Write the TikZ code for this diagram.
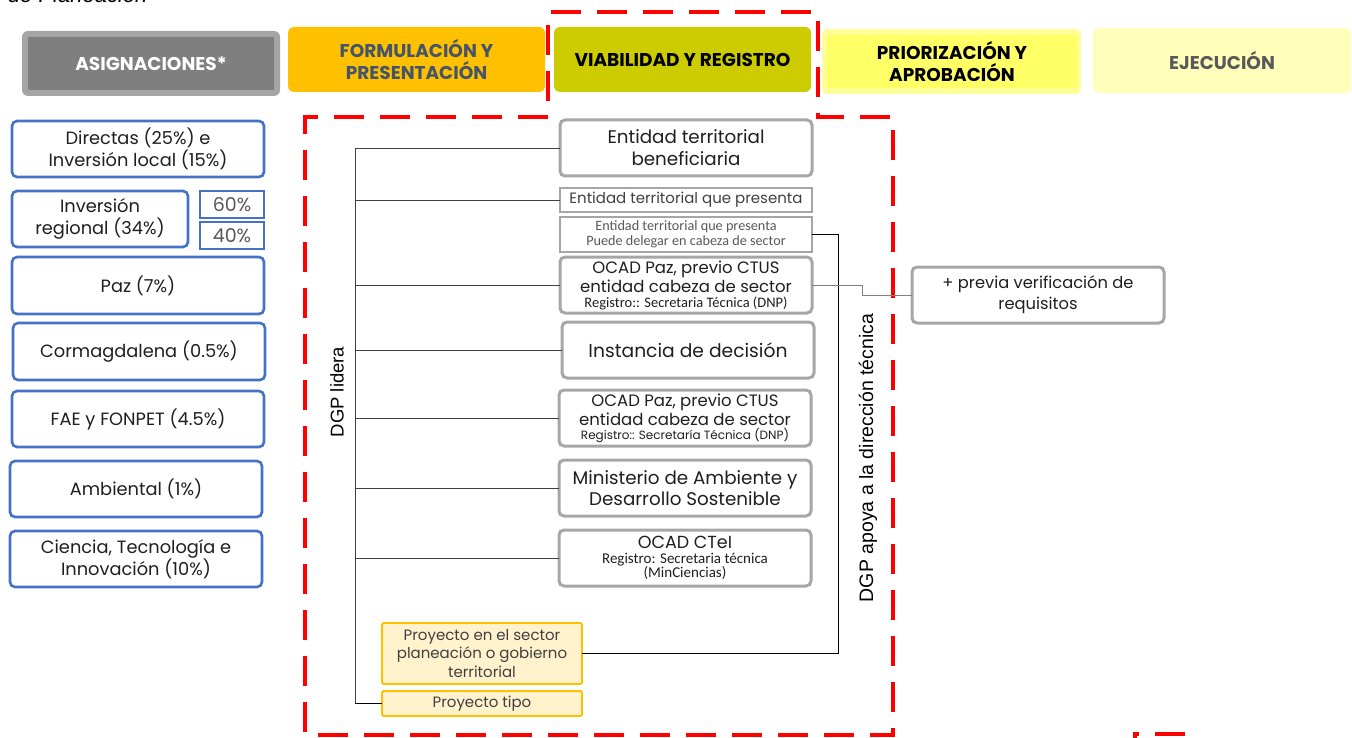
\documentclass[tikz,border=0pt]{standalone}
\usepackage{fontspec}
\setmainfont{Poppins}
\newfontfamily\calfont{Carlito}
\newfontfamily\arifont{Liberation Sans}
\definecolor{blueB}{HTML}{4472C4}
\definecolor{grayB}{HTML}{A6A6A6}
\definecolor{hgrayo}{HTML}{A5A5A5}
\definecolor{hgrayi}{HTML}{7F7F7F}
\definecolor{orangeF}{HTML}{FFC000}
\definecolor{oliveF}{HTML}{CCCC00}
\definecolor{prioO}{HTML}{FFFF99}
\definecolor{prioI}{HTML}{FFFF66}
\definecolor{ejecF}{HTML}{FFFFBB}
\definecolor{navyT}{HTML}{44546A}
\definecolor{dgrayT}{HTML}{595959}
\definecolor{lineC}{HTML}{404040}
\definecolor{projF}{HTML}{FFF2CC}
\definecolor{redD}{HTML}{FF0000}
\newcommand{\fsz}[2]{\fontsize{#1}{#2}\selectfont}
\newcommand{\boxat}[7]{\node[#2, minimum width={(#5-#3)*1pt}, minimum height={(#6-#4)*1pt}] (#1) at ({(#3+#5)/2},{(#4+#6)/2}) {#7};}
\begin{document}
\begin{tikzpicture}[x=1pt,y=-1pt,
  every node/.style={inner sep=0pt, outer sep=0pt, align=center},
  hdr/.style={rounded corners=6pt, font=\bfseries\fsz{18.5}{22}},
  lb/.style={draw=blueB, line width=2.6pt, rounded corners=5pt, fill=white, font=\fsz{17.8}{22}, text=black!88},
  pb/.style={draw=blueB, line width=1.3pt, fill=white, font=\fsz{19}{20}, text=dgrayT},
  mb/.style={draw=grayB, line width=3pt, rounded corners=5pt, fill=white, text=black!88},
  tb/.style={draw=grayB, line width=1.5pt, fill=white},
  yb/.style={draw=orangeF, fill=projF, line width=1.8pt, rounded corners=1.5pt, font=\fsz{15}{18.5}, text=lineC},
  conn/.style={draw=lineC, line width=0.9pt},
  reddash/.style={draw=redD, line width=4pt, dash pattern=on 30pt off 16pt}
]
\useasboundingbox (0,0) rectangle (1352,738);

% caption remnant (cut off at the top edge, as in the reference)
\node[anchor=base west, font=\arifont\itshape\fsz{22}{24}] (cap) at (8,3) {de Planeación};

% headers
\boxat{h1o}{fill=hgrayo, rounded corners=6pt}{22}{31}{280}{96}{}
\boxat{h1}{hdr, fill=hgrayi, rounded corners=1pt, text=white}{28}{37}{274}{90}{ASIGNACIONES*}
\boxat{h2}{hdr, fill=orangeF, text=navyT}{288}{27}{545}{92}{FORMULACIÓN Y\\PRESENTACIÓN}
\boxat{h3}{hdr, fill=oliveF, text=black}{554}{27}{811}{92}{VIABILIDAD Y REGISTRO}
\boxat{h4o}{fill=prioO, rounded corners=6pt}{822}{29}{1081}{94}{}
\boxat{h4}{hdr, fill=prioI, rounded corners=1pt, text=black}{827}{35}{1077}{88}{PRIORIZACIÓN Y\\APROBACIÓN}
\boxat{h5}{hdr, fill=ejecF, text=dgrayT}{1093}{28}{1351}{93}{EJECUCIÓN}

% left column
\boxat{a1}{lb}{12}{121}{264}{177}{Directas (25\%) e\\Inversión local (15\%)}
\boxat{a2}{lb}{12}{191}{188}{247}{Inversión\\regional (34\%)}
\boxat{a60}{pb}{200}{191}{264}{218}{60\%}
\boxat{a40}{pb}{200}{222}{264}{249}{40\%}
\boxat{a3}{lb}{12}{257}{264}{314}{Paz (7\%)}
\boxat{a4}{lb}{13}{323}{265}{380}{Cormagdalena (0.5\%)}
\boxat{a5}{lb}{12}{391}{264}{447}{FAE y FONPET (4.5\%)}
\boxat{a6}{lb}{10}{461}{262}{517}{Ambiental (1\%)}
\boxat{a7}{lb}{10}{531}{262}{587}{Ciencia, Tecnología e\\Innovación (10\%)}

% red dashed outline
\draw[reddash] (548,117) -- (305,117) -- (305,735) -- (893,735) -- (893,117) -- (818,117) -- (818,12) -- (548,12) -- cycle;
\draw[reddash] (1135,760) -- (1135,734) -- (1192,734) -- (1192,760);

% middle column
\boxat{e1}{mb, font=\fsz{18.3}{22}}{560}{120}{812}{176}{Entidad territorial\\beneficiaria}
\boxat{e2}{tb, font=\fsz{15}{16}, text=lineC}{560}{188}{812}{212}{Entidad territorial que presenta}
\boxat{e3}{tb, font=\calfont\fsz{14.2}{14.5}, text=dgrayT}{560}{217}{812}{252}{Entidad territorial que presenta\\Puede delegar en cabeza de sector}
\boxat{o1}{mb, font=\fsz{16.5}{19}}{560}{257}{812}{313}{OCAD Paz, previo CTUS\\entidad cabeza de sector\\[-4pt]{\calfont\fsz{14.5}{15}Registro:: Secretaria Técnica (DNP)}}
\boxat{ins}{mb, font=\fsz{18.7}{22}}{562}{322}{814}{378}{Instancia de decisión}
\boxat{o2}{mb, font=\fsz{16.5}{19}}{559}{390}{811}{446}{OCAD Paz, previo CTUS\\entidad cabeza de sector\\[-5pt]{\fsz{12}{13}Registro:: Secretaría Técnica (DNP)}}
\boxat{mi}{mb, font=\fsz{18.3}{21}}{559}{460}{811}{516}{Ministerio de Ambiente y\\Desarrollo Sostenible}
\boxat{oc}{mb, font=\fsz{17.5}{19}}{559}{530}{811}{586}{OCAD CTeI\\[-4pt]{\calfont\fsz{15}{15}Registro: Secretaria técnica}\\[-5pt]{\calfont\fsz{15}{15}(MinCiencias)}}
\boxat{p1}{yb}{382}{623}{582}{684}{Proyecto en el sector\\planeación o gobierno\\territorial}
\boxat{p2}{yb}{382}{691}{582}{716}{Proyecto tipo}
\boxat{pv}{mb, font=\fsz{16.3}{21}}{912}{267}{1164}{323}{+ previa verificación de\\requisitos}

% rotated labels
\node[rotate=90, font=\arifont\fsz{18.5}{20}] (lid) at (337,392) {DGP lidera};
\node[rotate=90, font=\arifont\fsz{19.5}{21}] (apo) at (868,458) {DGP apoya a la dirección técnica};

% tree connectors
\coordinate (tt) at (355,148);
\coordinate (tb) at (355,703.5);
\draw[conn] (tt) -- (tb);
\draw[conn] (tt) -- (e1.west);
\draw[conn] (e2.west -| tt) -- (e2.west);
\draw[conn] (o1.west -| tt) -- (o1.west);
\draw[conn] (ins.west -| tt) -- (ins.west);
\draw[conn] (o2.west -| tt) -- (o2.west);
\draw[conn] (mi.west -| tt) -- (mi.west);
\draw[conn] (oc.west -| tt) -- (oc.west);
\draw[conn, draw=black] (tb) -- (p2.west);

% right connectors
\coordinate (rv) at (838,653.5);
\draw[conn, draw=black] (e3.east) -| (rv) -- (p1.east);
\coordinate (st) at (862,285);
\draw[conn, draw=gray] (o1.east) -- (st) |- (pv.west);
\end{tikzpicture}
\end{document}
